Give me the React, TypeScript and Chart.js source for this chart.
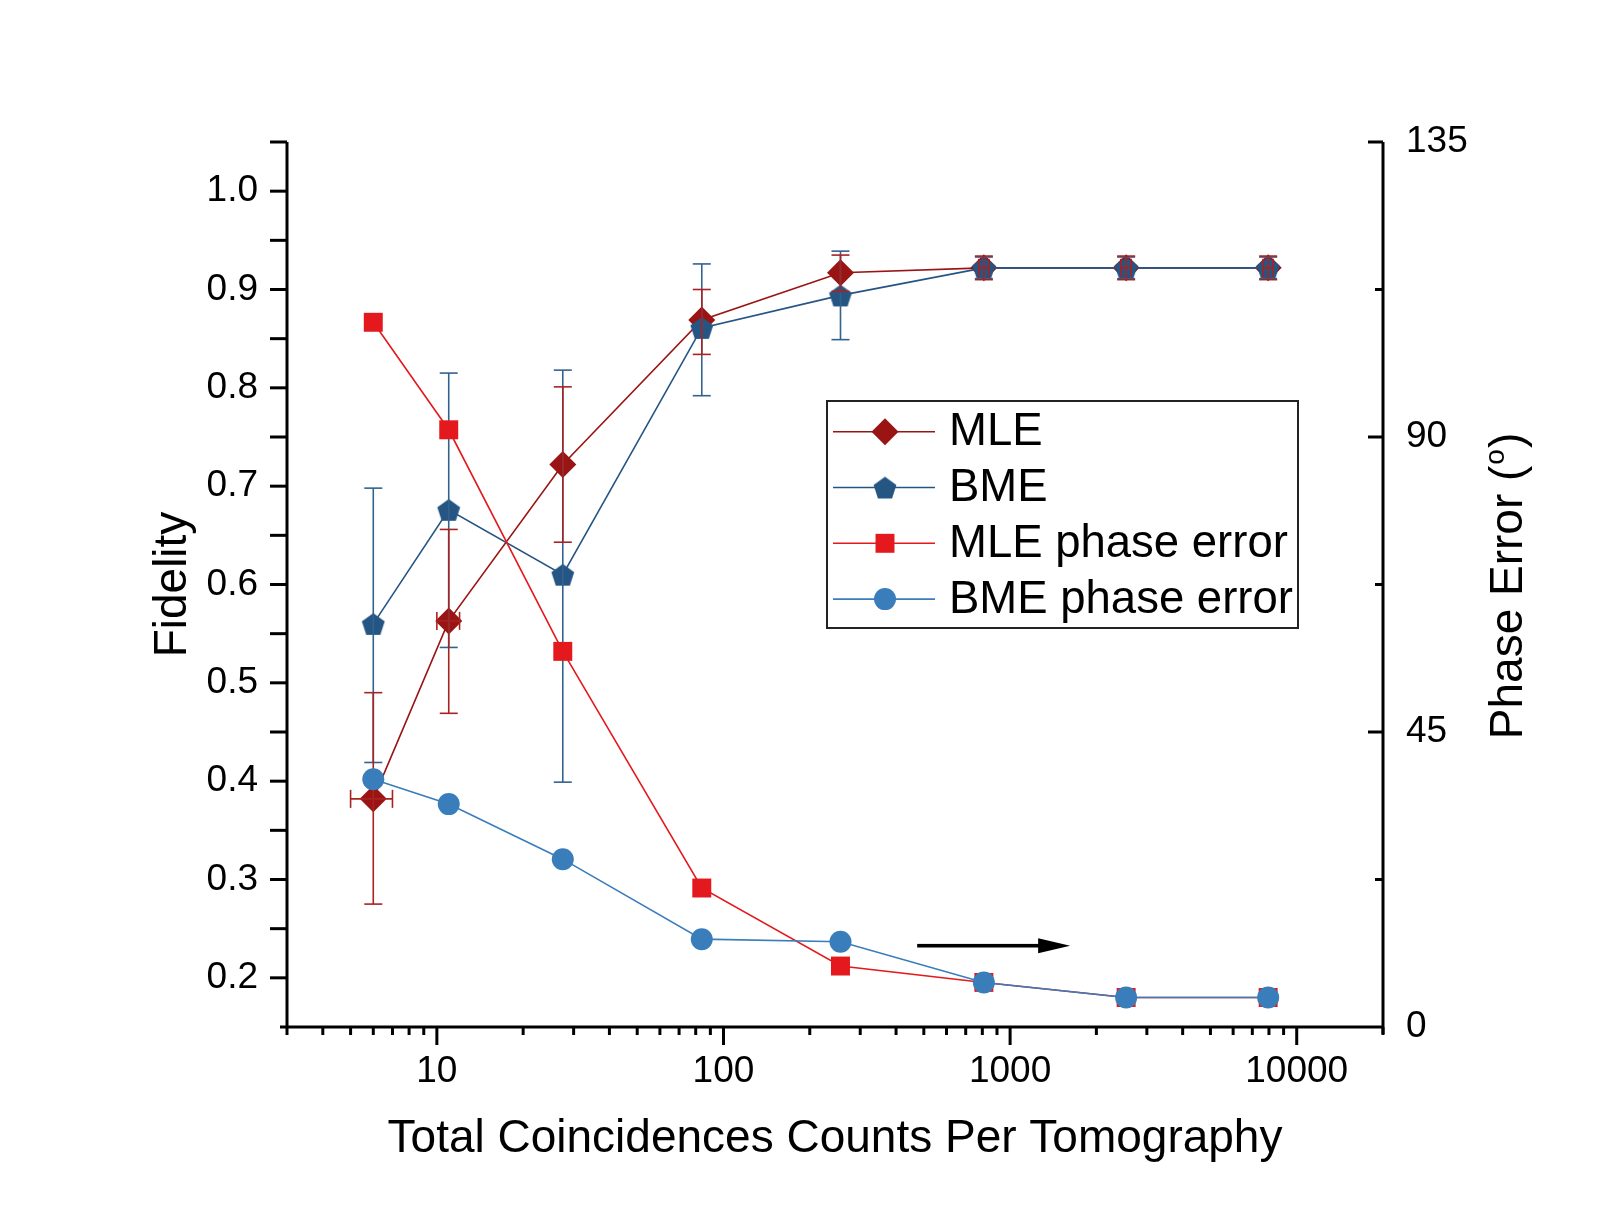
import { useEffect, useRef } from 'react';
import { Chart, registerables } from 'chart.js';

Chart.register(...registerables);

const FONT = "'Liberation Sans', Arial, Helvetica, sans-serif";

// Total coincidence counts per tomography (x positions)
const counts = [6, 11, 27.5, 84, 256, 810, 2540, 7950];
// Horizontal uncertainty on the counts (MLE series only)
const mleCountErr = [1, 1, 0, 0, 0, 33, 104, 325];

// Fidelity, maximum-likelihood estimation
const mleFidelity = [0.382, 0.563, 0.722, 0.869, 0.917, 0.922, 0.922, 0.922];
const mleFidHigh = [0.49, 0.656, 0.801, 0.9, 0.935, 0.934, 0.934, 0.934];
const mleFidLow = [0.275, 0.469, 0.643, 0.834, 0.898, 0.91, 0.91, 0.91];

// Fidelity, Bayesian mean estimation
const bmeFidelity = [0.56, 0.676, 0.61, 0.861, 0.894, 0.922, 0.922, 0.922];
const bmeFidHigh = [0.698, 0.815, 0.818, 0.926, 0.939, 0.933, 0.933, 0.933];
const bmeFidLow = [0.419, 0.536, 0.399, 0.792, 0.849, 0.911, 0.911, 0.911];

// Phase error in degrees (right axis)
const mlePhase = [107.5, 91.1, 57.3, 21.2, 9.3, 6.8, 4.5, 4.5];
const bmePhase = [37.8, 34.0, 25.6, 13.4, 13.0, 6.8, 4.5, 4.5];

// Axis tick labels
const countTicks = [10, 100, 1000, 10000];
const fidelityTicks = [0.2, 0.3, 0.4, 0.5, 0.6, 0.7, 0.8, 0.9, 1.0];
const phaseTicks = [0, 45, 90, 135];

// Arrow pointing the phase-error curves to the right-hand axis
const arrowFrom = 474;
const arrowTo = 1620;
const arrowPhase = 12.4;

const COLORS = {
  mle: '#9a1414',
  mleBar: '#a82222',
  bme: '#245583',
  bmeBar: '#33628f',
  mlePhase: '#e3191d',
  bmePhase: '#3a7dbb',
};

function makePentagon(r: number, color: string): HTMLCanvasElement {
  const c = document.createElement('canvas');
  const size = Math.ceil(2 * r + 2);
  c.width = size;
  c.height = size;
  const g = c.getContext('2d')!;
  const cx = size / 2;
  const cy = size / 2 + r * 0.1;
  g.fillStyle = color;
  g.beginPath();
  for (let k = 0; k < 5; k++) {
    const a = -Math.PI / 2 + (k * 2 * Math.PI) / 5;
    const px = cx + r * Math.cos(a);
    const py = cy + r * Math.sin(a);
    if (k === 0) g.moveTo(px, py);
    else g.lineTo(px, py);
  }
  g.closePath();
  g.fill();
  return c;
}

function drawMarker(ctx: CanvasRenderingContext2D, style: any, x: number, y: number, r: number, color: string) {
  ctx.save();
  ctx.fillStyle = color;
  if (style instanceof HTMLCanvasElement) {
    ctx.drawImage(style, x - style.width / 2, y - style.height / 2);
  } else if (style === 'rectRot') {
    ctx.beginPath();
    ctx.moveTo(x - r, y);
    ctx.lineTo(x, y - r);
    ctx.lineTo(x + r, y);
    ctx.lineTo(x, y + r);
    ctx.closePath();
    ctx.fill();
  } else if (style === 'rect') {
    const h = r * Math.SQRT1_2;
    ctx.fillRect(x - h, y - h, 2 * h, 2 * h);
  } else {
    ctx.beginPath();
    ctx.arc(x, y, r, 0, Math.PI * 2);
    ctx.fill();
  }
  ctx.restore();
}

function seg(ctx: CanvasRenderingContext2D, x1: number, y1: number, x2: number, y2: number) {
  ctx.beginPath();
  ctx.moveTo(x1, y1);
  ctx.lineTo(x2, y2);
  ctx.stroke();
}

function drawErrorBars(
  chart: any,
  centre: number[],
  low: number[],
  high: number[],
  xErr: number[] | null,
  color: string,
) {
  const { ctx } = chart;
  const xs = chart.scales.x;
  const ys = chart.scales.y;
  const cap = 9;
  ctx.save();
  ctx.strokeStyle = color;
  ctx.lineWidth = 1.6;
  counts.forEach((c, i) => {
    const x = xs.getPixelForValue(c);
    const yh = ys.getPixelForValue(high[i]);
    const yl = ys.getPixelForValue(low[i]);
    seg(ctx, x, yh, x, yl);
    seg(ctx, x - cap, yh, x + cap, yh);
    seg(ctx, x - cap, yl, x + cap, yl);
    if (xErr && xErr[i] > 0) {
      const y = ys.getPixelForValue(centre[i]);
      const xl = xs.getPixelForValue(c - xErr[i]);
      const xr = xs.getPixelForValue(c + xErr[i]);
      seg(ctx, xl, y, xr, y);
      seg(ctx, xl, y - cap, xl, y + cap);
      seg(ctx, xr, y - cap, xr, y + cap);
    }
  });
  ctx.restore();
}

const errorBarPlugin = {
  id: 'errorBars',
  afterDatasetDraw(chart: any, args: any) {
    if (args.index === 1) {
      drawErrorBars(chart, bmeFidelity, bmeFidLow, bmeFidHigh, null, COLORS.bmeBar);
      drawErrorBars(chart, mleFidelity, mleFidLow, mleFidHigh, mleCountErr, COLORS.mleBar);
    }
  },
};

const framePlugin = {
  id: 'frame',
  afterDraw(chart: any) {
    const { ctx, chartArea: a, scales } = chart;
    const xs = scales.x;
    const ys = scales.y;
    const y1 = scales.y1;
    ctx.save();
    ctx.strokeStyle = '#000';
    ctx.lineWidth = 3;
    ctx.lineCap = 'butt';
    seg(ctx, a.left - 7, a.bottom, a.right, a.bottom);
    seg(ctx, a.left, a.top, a.left, a.bottom);
    seg(ctx, a.right, a.top, a.right, a.bottom + 7);

    // log x ticks: majors at decades, minors at 2..9
    for (let d = 1; d <= 10000; d *= 10) {
      for (let m = 1; m <= 9; m++) {
        const v = m * d;
        if (v < xs.min || v > xs.max) continue;
        const px = xs.getPixelForValue(v);
        const len = m === 1 ? 18 : 8;
        seg(ctx, px, a.bottom, px, a.bottom + len);
      }
    }
    // left ticks every 0.05, outward
    for (let k = 4; k <= 21; k++) {
      const py = ys.getPixelForValue(k * 0.05);
      seg(ctx, a.left - 17, py, a.left, py);
    }
    // right ticks every 22.5 degrees, inward
    for (let k = 1; k <= 6; k++) {
      const v = k * 22.5;
      const py = y1.getPixelForValue(v);
      const len = k % 2 === 0 ? 15 : 8;
      seg(ctx, a.right - len, py, a.right, py);
    }
    ctx.restore();

    // arrow
    const ay = y1.getPixelForValue(arrowPhase);
    const ax0 = xs.getPixelForValue(arrowFrom);
    const ax1 = xs.getPixelForValue(arrowTo);
    const head = 32;
    ctx.save();
    ctx.fillStyle = '#000';
    ctx.fillRect(ax0, ay - 1.8, ax1 - head - ax0 + 1, 3.6);
    ctx.beginPath();
    ctx.moveTo(ax1, ay);
    ctx.lineTo(ax1 - head, ay - 7.5);
    ctx.lineTo(ax1 - head, ay + 7.5);
    ctx.closePath();
    ctx.fill();
    ctx.restore();

    // right-hand axis title with superscript degree mark
    ctx.save();
    ctx.translate(1509, 586);
    ctx.rotate(-Math.PI / 2);
    ctx.fillStyle = '#000';
    ctx.textBaseline = 'middle';
    const main = `46px ${FONT}`;
    const sup = `28px ${FONT}`;
    ctx.font = main;
    const t1 = 'Phase Error (';
    const w1 = ctx.measureText(t1).width;
    const w3 = ctx.measureText(')').width;
    ctx.font = sup;
    const w2 = ctx.measureText('o').width;
    let tx = -(w1 + w2 + w3 + 2) / 2;
    ctx.textAlign = 'left';
    ctx.font = main;
    ctx.fillText(t1, tx, 0);
    tx += w1 + 1;
    ctx.font = sup;
    ctx.fillText('o', tx, -13);
    tx += w2 + 1;
    ctx.font = main;
    ctx.fillText(')', tx, 0);
    ctx.restore();

    // legend box
    const box = { left: 827, top: 401, right: 1298, bottom: 628 };
    ctx.save();
    ctx.fillStyle = '#fff';
    ctx.fillRect(box.left, box.top, box.right - box.left, box.bottom - box.top);
    ctx.strokeStyle = '#222';
    ctx.lineWidth = 2;
    ctx.strokeRect(box.left, box.top, box.right - box.left, box.bottom - box.top);
    ctx.font = `45.5px ${FONT}`;
    ctx.textBaseline = 'middle';
    ctx.textAlign = 'left';
    chart.data.datasets.forEach((ds: any, i: number) => {
      const y = box.top + 30.7 + i * 55.8;
      ctx.strokeStyle = ds.borderColor;
      ctx.lineWidth = 1.6;
      seg(ctx, 833, y, 935, y);
      drawMarker(ctx, ds.pointStyle, 885, y, ds.pointRadius, ds.pointBackgroundColor);
      ctx.fillStyle = '#000';
      ctx.fillText(ds.label, 949, y + 1);
    });
    ctx.restore();
  },
};

function points(ys: number[]) {
  return counts.map((c, i) => ({ x: c, y: ys[i] }));
}

export default function App() {
  const ref = useRef<HTMLCanvasElement>(null);

  useEffect(() => {
    if (!ref.current) return;
    const pentagon = makePentagon(12, COLORS.bme);
    const chart = new Chart(ref.current, {
      type: 'line',
      data: {
        datasets: [
          {
            label: 'MLE',
            data: points(mleFidelity),
            yAxisID: 'y',
            borderColor: COLORS.mle,
            borderWidth: 1.6,
            pointStyle: 'rectRot',
            pointRadius: 13.5,
            pointBackgroundColor: COLORS.mle,
            pointBorderWidth: 0,
            order: 4,
          },
          {
            label: 'BME',
            data: points(bmeFidelity),
            yAxisID: 'y',
            borderColor: COLORS.bme,
            borderWidth: 1.6,
            pointStyle: pentagon,
            pointRadius: 12,
            pointBackgroundColor: COLORS.bme,
            pointBorderWidth: 0,
            order: 3,
          },
          {
            label: 'MLE phase error',
            data: points(mlePhase),
            yAxisID: 'y1',
            borderColor: COLORS.mlePhase,
            borderWidth: 1.6,
            pointStyle: 'rect',
            pointRadius: 13.4,
            pointBackgroundColor: COLORS.mlePhase,
            pointBorderWidth: 0,
            order: 2,
          },
          {
            label: 'BME phase error',
            data: points(bmePhase),
            yAxisID: 'y1',
            borderColor: COLORS.bmePhase,
            borderWidth: 1.6,
            pointStyle: 'circle',
            pointRadius: 11,
            pointBackgroundColor: COLORS.bmePhase,
            pointBorderWidth: 0,
            order: 1,
          },
        ] as any,
      },
      options: {
        responsive: false,
        animation: false,
        events: [],
        layout: { padding: { top: 142, left: 0, right: 0, bottom: 0 } },
        plugins: { legend: { display: false }, tooltip: { enabled: false } },
        scales: {
          x: {
            type: 'logarithmic',
            position: 'bottom',
            min: 3,
            max: 20000,
            grid: { display: false, drawTicks: false },
            border: { display: false },
            afterBuildTicks: (s: any) => {
              s.ticks = countTicks.map((v) => ({ value: v }));
            },
            afterFit: (s: any) => {
              s.height = 205;
            },
            ticks: {
              autoSkip: false,
              maxRotation: 0,
              padding: 23,
              color: '#000',
              font: { family: FONT, size: 37 },
              callback: (v: any) => String(v),
            },
            title: {
              display: true,
              text: 'Total Coincidences Counts Per Tomography',
              color: '#000',
              font: { family: FONT, size: 46 },
              padding: { top: 0, bottom: 65 },
            },
          },
          y: {
            type: 'linear',
            position: 'left',
            min: 0.15,
            max: 1.05,
            grid: { display: false, drawTicks: false },
            border: { display: false },
            afterBuildTicks: (s: any) => {
              s.ticks = fidelityTicks.map((v) => ({ value: v }));
            },
            afterFit: (s: any) => {
              s.width = 287;
            },
            ticks: {
              padding: 29,
              color: '#000',
              font: { family: FONT, size: 37 },
              callback: (v: any) => Number(v).toFixed(1),
            },
            title: {
              display: true,
              text: 'Fidelity',
              color: '#000',
              font: { family: FONT, size: 46 },
              padding: { top: 146, bottom: 0 },
            },
          },
          y1: {
            type: 'linear',
            position: 'right',
            min: 0,
            max: 135,
            grid: { display: false, drawTicks: false },
            border: { display: false },
            afterBuildTicks: (s: any) => {
              s.ticks = phaseTicks.map((v) => ({ value: v }));
            },
            afterFit: (s: any) => {
              s.width = 226;
            },
            ticks: {
              padding: 23,
              color: '#000',
              font: { family: FONT, size: 37 },
              callback: (v: any) => String(v),
            },
          },
        },
      } as any,
      plugins: [errorBarPlugin, framePlugin],
    });
    return () => chart.destroy();
  }, []);

  return (
    <div style={{ position: 'fixed', left: 0, top: 0, width: 1609, height: 1232, background: '#fff' }}>
      <canvas ref={ref} width={1609} height={1232} />
    </div>
  );
}
